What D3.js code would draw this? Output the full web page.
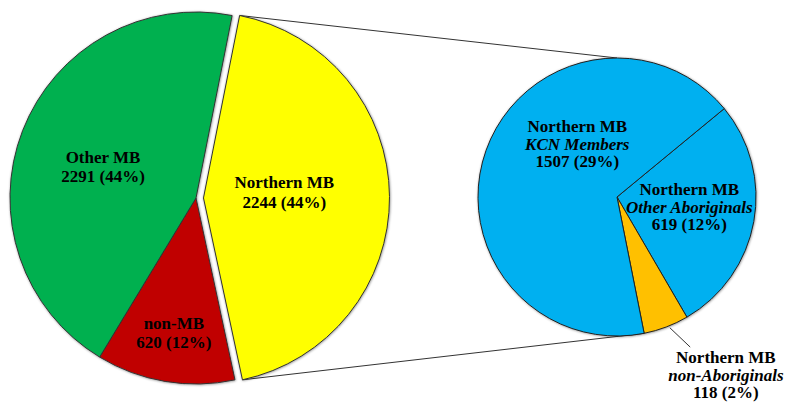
<!DOCTYPE html>
<html>
<head>
<meta charset="utf-8">
<script src="https://cdn.jsdelivr.net/npm/d3@7"></script>
</head>
<body style="margin:0; background:#fff">
<div id="vis"></div>
<script>
const width = 785;
const height = 402;

// Main pie
const mainCats = ["Northern MB", "non-MB", "Other MB"];
const mainValues = [2244, 620, 2291];
const mainColors = ["#FFFF00", "#C00000", "#00B050"];

// Breakdown of Northern MB
const subCats = ["Other Aboriginals", "non-Aboriginals", "KCN Members"];
const subValues = [619, 118, 1507];
const subColors = ["#00B0F0", "#FFC000", "#00B0F0"];

const total = d3.sum(mainValues);
const pct = d3.format(".0%");
const rad = deg => deg * Math.PI / 180;

// layout
const main = { cx: 196, cy: 198, r: 186, start: 11.2, explode: 7.5, lh: 19.5 };
const sub = { cx: 617, cy: 197, r: 139, start: 50.5, lh: 17.5 };

// label positions: [angle in degrees, distance in px]
const mainLabelAt = { "Northern MB": [86, 81], "non-MB": [189.3, 137], "Other MB": [288.4, 98] };
const subLabelAt = { "Other Aboriginals": [97.9, 73], "KCN Members": [323, 66], "non-Aboriginals": [148.6, 209] };

const polar = (cx, cy, a, r) => [cx + r * Math.sin(rad(a)), cy - r * Math.cos(rad(a))];

const svg = d3.select("#vis").append("svg")
  .attr("width", width)
  .attr("height", height);

const defs = svg.append("defs");
defs.append("filter").attr("id", "shadow")
  .attr("x", "-10%").attr("y", "-10%").attr("width", "120%").attr("height", "120%")
  .append("feDropShadow")
  .attr("dx", 0.5).attr("dy", 0.5).attr("stdDeviation", 1)
  .attr("flood-color", "#000").attr("flood-opacity", 0.45);

const mainPie = d3.pie().sort(null)
  .startAngle(rad(main.start)).endAngle(rad(main.start + 360))(mainValues);
const subPie = d3.pie().sort(null)
  .startAngle(rad(sub.start)).endAngle(rad(sub.start + 360))(subValues);

const mainArc = d3.arc().innerRadius(0).outerRadius(main.r);
const subArc = d3.arc().innerRadius(0).outerRadius(sub.r);

// exploded slice = Northern MB
const nm = mainPie[0];
const midA = (nm.startAngle + nm.endAngle) / 2;
const ex = [main.explode * Math.sin(midA), -main.explode * Math.cos(midA)];

// connector lines
const topA = polar(main.cx + ex[0], main.cy + ex[1], nm.startAngle * 180 / Math.PI, main.r);
const botA = polar(main.cx + ex[0], main.cy + ex[1], nm.endAngle * 180 / Math.PI, main.r);
const topB = polar(sub.cx, sub.cy, 0, sub.r);
const botB = polar(sub.cx, sub.cy, subPie[2].startAngle * 180 / Math.PI, sub.r);

svg.append("g").selectAll("line")
  .data([[topA, topB], [botA, botB]])
  .join("line")
  .attr("x1", d => d[0][0]).attr("y1", d => d[0][1])
  .attr("x2", d => d[1][0]).attr("y2", d => d[1][1])
  .attr("stroke", "#333")
  .attr("stroke-width", 1);

// main pie
svg.append("g")
  .attr("transform", `translate(${main.cx},${main.cy})`)
  .attr("filter", "url(#shadow)")
  .selectAll("path")
  .data(mainPie)
  .join("path")
  .attr("d", mainArc)
  .attr("transform", (d, i) => i === 0 ? `translate(${ex[0]},${ex[1]})` : null)
  .attr("fill", (d, i) => mainColors[i])
  .attr("stroke", "#333")
  .attr("stroke-width", 1);

// secondary pie
svg.append("g")
  .attr("transform", `translate(${sub.cx},${sub.cy})`)
  .attr("filter", "url(#shadow)")
  .selectAll("path")
  .data(subPie)
  .join("path")
  .attr("d", subArc)
  .attr("fill", (d, i) => subColors[i])
  .attr("stroke", "#222")
  .attr("stroke-width", 1);

// leader for the small slice
const l1 = polar(sub.cx, sub.cy, 158, 141);
const l2 = polar(sub.cx, sub.cy, 154, 167);
svg.append("line")
  .attr("x1", l1[0]).attr("y1", l1[1])
  .attr("x2", l2[0]).attr("y2", l2[1])
  .attr("stroke", "#333").attr("stroke-width", 1);

function addLabel(x, y, lines, lh) {
  const t = svg.append("text")
    .attr("text-anchor", "middle")
    .attr("font-family", "'Liberation Serif', 'Times New Roman', serif")
    .attr("font-weight", "bold")
    .attr("font-size", 17)
    .attr("fill", "#000");
  lines.forEach((ln, i) => {
    t.append("tspan")
      .attr("x", x)
      .attr("y", y + (i - (lines.length - 1) / 2) * lh)
      .attr("dominant-baseline", "central")
      .attr("font-style", ln.italic ? "italic" : "normal")
      .text(ln.text);
  });
}

mainCats.forEach((c, i) => {
  const [a, r] = mainLabelAt[c];
  const ox = i === 0 ? ex[0] : 0, oy = i === 0 ? ex[1] : 0;
  const [x, y] = polar(main.cx + ox, main.cy + oy, a, r);
  addLabel(x, y, [
    { text: c },
    { text: `${mainValues[i]} (${pct(mainValues[i] / total)})` }
  ], main.lh);
});

subCats.forEach((c, i) => {
  const [a, r] = subLabelAt[c];
  const [x, y] = polar(sub.cx, sub.cy, a, r);
  addLabel(x, y, [
    { text: "Northern MB" },
    { text: c, italic: true },
    { text: `${subValues[i]} (${pct(subValues[i] / total)})` }
  ], sub.lh);
});
</script>
</body>
</html>
